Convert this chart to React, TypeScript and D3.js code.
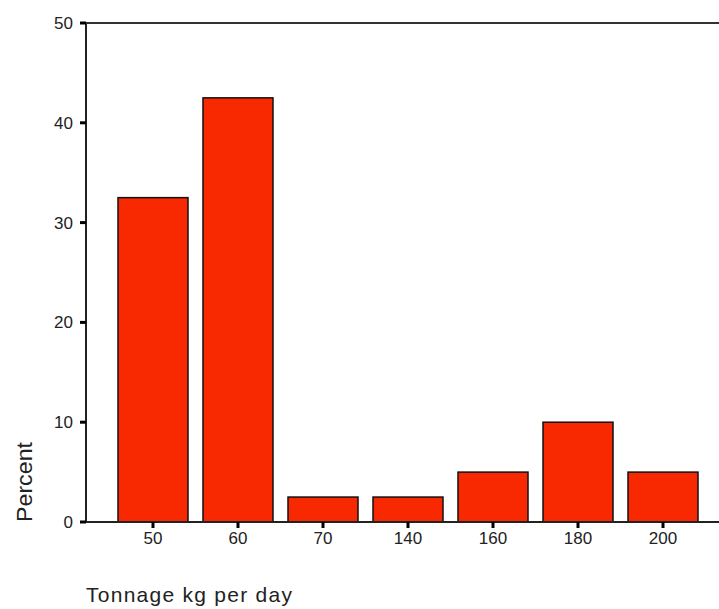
import React from "react";
import * as d3 from "d3";

const categories = ["50", "60", "70", "140", "160", "180", "200"];
const percents = [32.5, 42.5, 2.5, 2.5, 5, 10, 5];
const yTicks = [0, 10, 20, 30, 40, 50];

const W = 719;
const H = 609;
const axisX = 86;
const top = 23;
const bottom = 522;

export default function App() {
  const x = d3
    .scaleBand<string>()
    .domain(categories)
    .range([110.5, 705.5])
    .paddingInner(0.1765)
    .paddingOuter(0.0882);
  const y = d3.scaleLinear().domain([0, 50]).range([bottom, top]);
  const font = "'Liberation Sans', Arial, sans-serif";
  return (
    <svg
      width={W}
      height={H}
      style={{ position: "absolute", left: 0, top: 0, background: "#fff" }}
    >
      {categories.map((c, i) => (
        <rect
          key={c}
          x={x(c)!}
          y={y(percents[i])}
          width={x.bandwidth()}
          height={y(0) - y(percents[i])}
          fill="#f82800"
          stroke="#111"
          strokeWidth={1.5}
        />
      ))}
      {/* axes */}
      <line x1={axisX} x2={W} y1={top} y2={top} stroke="#333" strokeWidth={2} />
      <line x1={axisX} x2={W} y1={bottom} y2={bottom} stroke="#222" strokeWidth={2} />
      <line x1={axisX} x2={axisX} y1={top} y2={bottom} stroke="#222" strokeWidth={2} />
      {yTicks.map((t) => (
        <g key={t}>
          <line x1={axisX - 6} x2={axisX} y1={y(t)} y2={y(t)} stroke="#000" strokeWidth={3} />
          <text
            x={73}
            y={y(t)}
            dy="0.35em"
            textAnchor="end"
            fontFamily={font}
            fontSize={17}
            fill="#222"
          >
            {t}
          </text>
        </g>
      ))}
      {categories.map((c) => {
        const cx = x(c)! + x.bandwidth() / 2;
        return (
          <g key={"t" + c}>
            <line x1={cx} x2={cx} y1={bottom} y2={bottom + 6} stroke="#000" strokeWidth={3} />
            <text
              x={cx}
              y={bottom + 22}
              textAnchor="middle"
              fontFamily={font}
              fontSize={17}
              fill="#222"
            >
              {c}
            </text>
          </g>
        );
      })}
      <text
        transform={`translate(32,482) rotate(-90)`}
        textAnchor="middle"
        fontFamily={font}
        fontSize={22}
        textLength={80}
        lengthAdjust="spacingAndGlyphs"
        fill="#222"
      >
        Percent
      </text>
      <text
        x={86}
        y={602}
        fontFamily={font}
        fontSize={21}
        textLength={206}
        lengthAdjust="spacing"
        fill="#222"
      >
        Tonnage kg per day
      </text>
    </svg>
  );
}
